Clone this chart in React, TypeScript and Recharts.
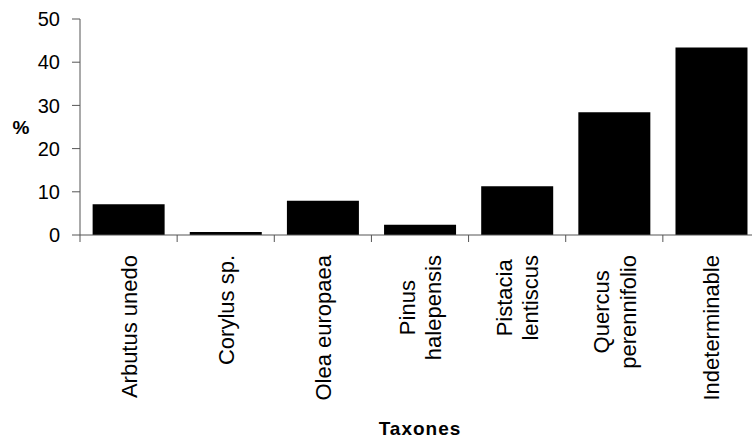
import { Bar, BarChart, XAxis, YAxis } from "recharts";

const taxa = [
  "Arbutus unedo",
  "Corylus sp.",
  "Olea europaea",
  "Pinus\nhalepensis",
  "Pistacia\nlentiscus",
  "Quercus\nperennifolio",
  "Indeterminable",
];
const percents = [7.1, 0.7, 7.9, 2.4, 11.3, 28.4, 43.4];
const yTicks = [0, 10, 20, 30, 40, 50];

const data = taxa.map((name, i) => ({ name, value: percents[i] }));

const FONT = "Arial, 'Liberation Sans', Helvetica, sans-serif";
const W = 770;
const H = 441;
const M = { top: 19, right: 10, left: 0, bottom: 0 };
const Y_W = 80;
const X_H = 206;
const STEP = (W - M.left - M.right - Y_W) / taxa.length;
const AXIS = "#555";

let ctx: CanvasRenderingContext2D | null = null;
function textWidth(s: string, px: number) {
  if (!ctx) ctx = document.createElement("canvas").getContext("2d");
  if (!ctx) return s.length * px * 0.5;
  ctx.font = `${px}px ${FONT}`;
  return ctx.measureText(s).width;
}

/** rotated category label + boundary tick marks like the old spreadsheet chart */
function TaxonTick(props: any) {
  const { x, y, payload, index } = props;
  const lines: string[] = String(payload.value).split("\n");
  const fs = 22;
  const lh = 26.5;
  const longest = Math.max(...lines.map((l) => textWidth(l, fs)));
  const cy = y + 20 + longest / 2;
  const left = x - STEP / 2;
  return (
    <g>
      <line x1={left} x2={left} y1={y} y2={y + 7} stroke={AXIS} />
      {index === taxa.length - 1 && (
        <line x1={x + STEP / 2} x2={x + STEP / 2} y1={y} y2={y + 7} stroke={AXIS} />
      )}
      <text
        x={x}
        y={cy}
        transform={`rotate(-90, ${x}, ${cy})`}
        textAnchor="middle"
        fontSize={fs}
        fontFamily={FONT}
        fill="#000"
      >
        {lines.map((l, i) => (
          <tspan key={i} x={x} dy={i === 0 ? 8 - ((lines.length - 1) / 2) * lh : lh}>
            {l}
          </tspan>
        ))}
      </text>
    </g>
  );
}

export default function App() {
  return (
    <div
      style={{
        position: "absolute",
        left: 0,
        top: 0,
        width: 752,
        height: 441,
        overflow: "hidden",
        background: "#fff",
      }}
    >
      <BarChart width={W} height={H} data={data} margin={M} barCategoryGap="13%">
        <XAxis
          dataKey="name"
          interval={0}
          height={X_H}
          tickLine={false}
          tickSize={0}
          tickMargin={0}
          axisLine={{ stroke: AXIS }}
          tick={<TaxonTick />}
          label={({ viewBox }: any) => (
            <text
              x={viewBox.x + viewBox.width / 2}
              y={viewBox.y + 200}
              textAnchor="middle"
              fontSize={19}
              fontWeight="bold"
              letterSpacing={1}
              fontFamily={FONT}
              fill="#000"
            >
              Taxones
            </text>
          )}
        />
        <YAxis
          width={Y_W}
          domain={[0, 50]}
          ticks={yTicks}
          interval={0}
          tickSize={8}
          tickMargin={12}
          axisLine={{ stroke: AXIS }}
          tickLine={{ stroke: AXIS }}
          tick={{ fontSize: 20, fill: "#000", fontFamily: FONT }}
          label={({ viewBox }: any) => (
            <text
              x={21}
              y={viewBox.y + viewBox.height / 2 + 7}
              textAnchor="middle"
              fontSize={19}
              fontWeight="bold"
              fontFamily={FONT}
              fill="#000"
            >
              %
            </text>
          )}
        />
        <Bar dataKey="value" fill="#000" isAnimationActive={false} />
      </BarChart>
    </div>
  );
}
